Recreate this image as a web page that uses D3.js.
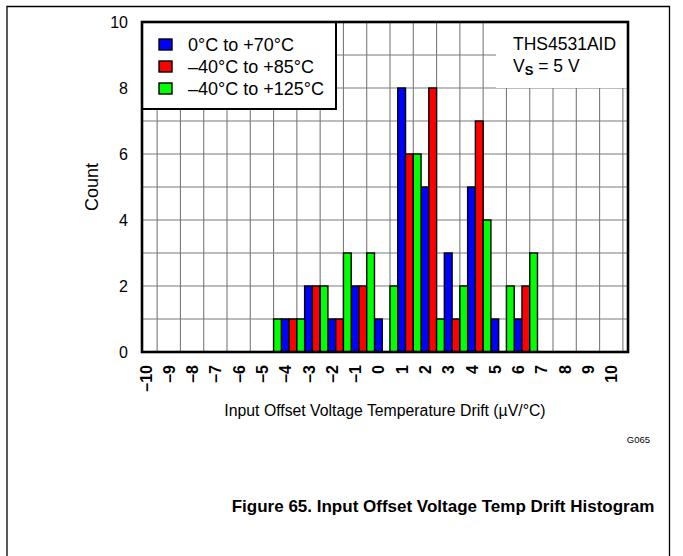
<!DOCTYPE html>
<html>
<head>
<meta charset="utf-8">
<script src="https://cdn.jsdelivr.net/npm/d3@7"></script>
<style>
  html, body { margin: 0; padding: 0; background: #fff; }
  svg { display: block; font-family: "Liberation Sans", Arial, Helvetica, sans-serif; }
</style>
</head>
<body>
<svg id="chart" width="683" height="556"></svg>
<script>
// Histogram bins (µV/°C) and counts per temperature range
const binValues = [-4, -3, -2, -1, 0, 1, 2, 3, 4, 5, 6, 7];
const counts0to70 = [1, 2, 1, 2, 1, 8, 5, 3, 5, 1, 1, 0];
const countsM40to85 = [1, 2, 1, 2, 0, 6, 8, 1, 7, 0, 2, 0];
const countsM40to125 = [1, 1, 2, 3, 3, 2, 6, 1, 2, 4, 2, 3];
const seriesNames = ["0°C to +70°C", "\u201340°C to +85°C", "\u201340°C to +125°C"];
const seriesColors = ["#0000ff", "#ff0000", "#00ff00"];
const xTickValues = d3.range(-10, 11);
const yTickValues = [0, 2, 4, 6, 8, 10];

const svg = d3.select("#chart");

// Outer figure frame
svg.append("path")
  .attr("d", "M7,556 V6.5 H669.5 V556")
  .attr("fill", "none").attr("stroke", "#000").attr("stroke-width", 1.3);

const plot = { left: 142, right: 628, top: 22, bottom: 352 };
const x = d3.scaleLinear().domain([-10.15, 10.72]).range([plot.left, plot.right]);
const y = d3.scaleLinear().domain([0, 10]).range([plot.bottom, plot.top]);
const unit = x(1) - x(0);

// Grid
const grid = svg.append("g").attr("stroke", "#7a7a7a").attr("stroke-width", 1.1);
grid.selectAll("line.h").data(d3.range(1, 10)).join("line")
  .attr("x1", plot.left).attr("x2", plot.right)
  .attr("y1", d => y(d)).attr("y2", d => y(d));
grid.selectAll("line.v").data(xTickValues.map(v => v + 0.5)).join("line")
  .attr("x1", d => x(d)).attr("x2", d => x(d))
  .attr("y1", plot.top).attr("y2", plot.bottom);

// Bars: within each bin the +125°C bar sits left, 0–70°C centred, +85°C right
const series = [
  { values: counts0to70, color: seriesColors[0], shift: 0 },
  { values: countsM40to85, color: seriesColors[1], shift: 1 / 3 },
  { values: countsM40to125, color: seriesColors[2], shift: -1 / 3 }
];
const barW = unit / 3;
const bars = svg.append("g");
series.forEach(s => {
  bars.selectAll(null)
    .data(binValues.map((v, i) => ({ v, c: s.values[i] })).filter(d => d.c > 0))
    .join("rect")
    .attr("x", d => x(d.v + s.shift) - barW / 2)
    .attr("width", barW)
    .attr("y", d => y(d.c))
    .attr("height", d => y(0) - y(d.c))
    .attr("fill", s.color)
    .attr("stroke", "#000")
    .attr("stroke-width", 1.4);
});

// Legend panel
svg.append("rect")
  .attr("x", plot.left).attr("y", plot.top)
  .attr("width", 194).attr("height", 87)
  .attr("fill", "#fff").attr("stroke", "#000").attr("stroke-width", 2);
const legend = svg.append("g");
seriesNames.forEach((name, i) => {
  const ly = 44.5 + i * 22;
  legend.append("rect")
    .attr("x", 159).attr("y", ly - 5.5).attr("width", 13).attr("height", 11)
    .attr("fill", seriesColors[i]).attr("stroke", "#000").attr("stroke-width", 1.4);
  legend.append("text")
    .attr("x", 188).attr("y", ly + 6.5)
    .attr("font-size", 18).text(name);
});

// Device note panel
svg.append("rect")
  .attr("x", 496).attr("y", plot.top + 1)
  .attr("width", plot.right - 496 - 1).attr("height", y(8) - plot.top - 1)
  .attr("fill", "#fff");
const note = svg.append("text").attr("font-size", 17.5);
note.append("tspan").attr("x", 513).attr("y", 50).text("THS4531AID");
const line2 = svg.append("text").attr("font-size", 17.5).attr("x", 513).attr("y", 72);
line2.append("tspan").text("V");
line2.append("tspan").attr("font-weight", "bold").attr("font-size", 13).attr("dy", 3).text("S");
line2.append("tspan").attr("dy", -3).text(" = 5 V");

// Plot frame
svg.append("rect")
  .attr("x", plot.left).attr("y", plot.top)
  .attr("width", plot.right - plot.left).attr("height", plot.bottom - plot.top)
  .attr("fill", "none").attr("stroke", "#000").attr("stroke-width", 2.6);

// Axes
const fmt = d => (d < 0 ? "\u2013" + Math.abs(d) : String(d));
const yAxis = svg.append("g")
  .attr("transform", `translate(${plot.left},0)`)
  .call(d3.axisLeft(y).tickValues(yTickValues).tickSize(0).tickPadding(14).tickFormat(fmt));
yAxis.select(".domain").remove();
yAxis.selectAll("text").attr("font-size", 16).attr("fill", "#000").attr("font-family", null);

const xAxis = svg.append("g")
  .attr("transform", `translate(0,${plot.bottom})`)
  .call(d3.axisBottom(x).tickValues(xTickValues).tickSize(0).tickFormat(fmt));
xAxis.select(".domain").remove();
xAxis.selectAll("text")
  .attr("font-size", 16).attr("fill", "#000").attr("font-family", null)
  .attr("font-weight", "bold")
  .attr("text-anchor", "end")
  .attr("dy", "0.35em").attr("y", 0)
  .attr("transform", "translate(0,13) rotate(-90)");

// Axis titles
svg.append("text")
  .attr("x", 385).attr("y", 416).attr("text-anchor", "middle")
  .attr("font-size", 15.8).text("Input Offset Voltage Temperature Drift (\u00b5V/\u00b0C)");
svg.append("text")
  .attr("transform", "translate(98,187) rotate(-90)").attr("text-anchor", "middle")
  .attr("font-size", 18).text("Count");
svg.append("text")
  .attr("x", 650).attr("y", 443).attr("text-anchor", "end")
  .attr("font-size", 9.5).text("G065");

// Caption
svg.append("text")
  .attr("x", 443).attr("y", 512).attr("text-anchor", "middle")
  .attr("font-size", 17).attr("font-weight", "bold")
  .text("Figure 65. Input Offset Voltage Temp Drift Histogram");
</script>
</body>
</html>
